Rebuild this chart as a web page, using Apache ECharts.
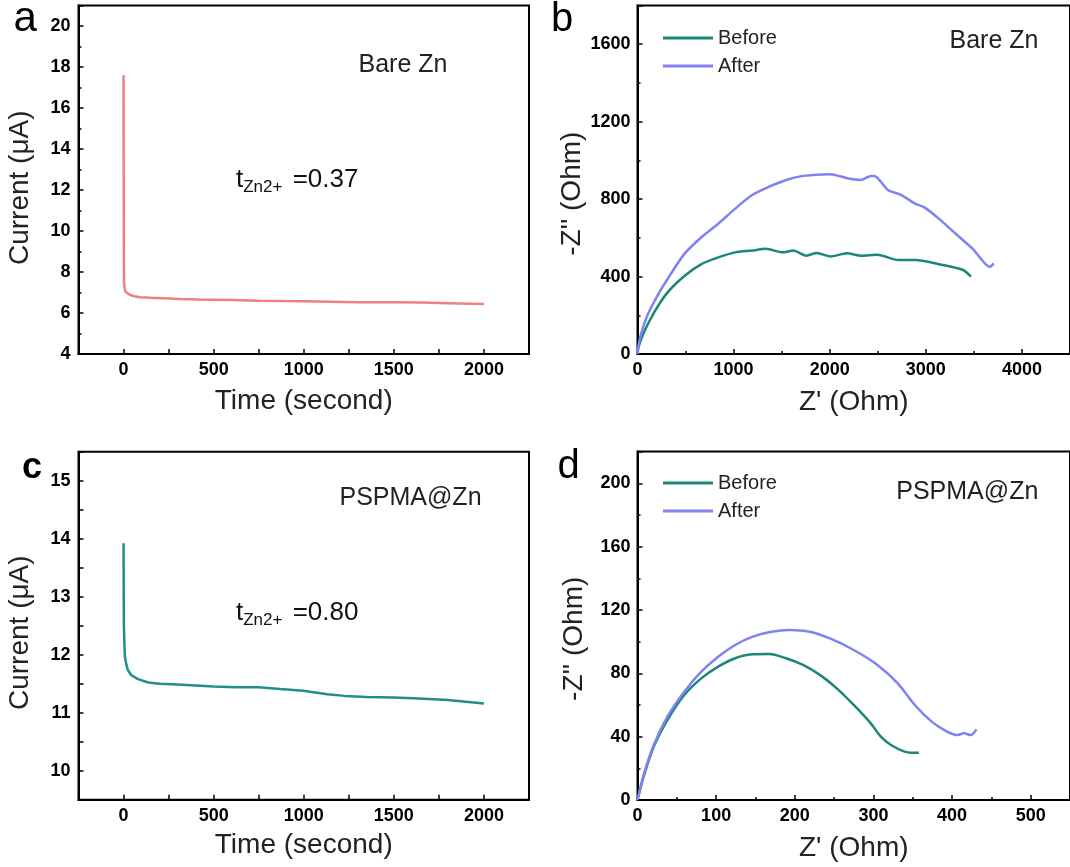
<!DOCTYPE html>
<html>
<head>
<meta charset="utf-8">
<script src="https://cdn.jsdelivr.net/npm/echarts@6/dist/echarts.min.js"></script>
<style>html,body{margin:0;padding:0;background:#fff}#c{width:1070px;height:867px}</style>
</head>
<body>
<div id="c"></div>
<script>
const FONT = 'Liberation Sans, Arial, Helvetica, sans-serif';

// Panel a: Bare Zn chronoamperometry
const aTime = [0,0.5,1,1.5,2,3,6,10,20,37,60,93,150,220,315,420,500,600,750,900,1000,1150,1300,1500,1650,1800,2000];
const aCurrent = [17.6,15.0,11.7,9.5,8.2,7.45,7.2,7.04,6.95,6.88,6.82,6.77,6.74,6.72,6.68,6.66,6.65,6.64,6.60,6.58,6.57,6.55,6.53,6.52,6.51,6.48,6.44];

// Panel c: PSPMA@Zn chronoamperometry
const cTime = [0,0.5,1,2,4,7.5,14,23,42,80,137,200,271,400,500,620,749,870,997,1131,1226,1350,1494,1609,1800,2000];
const cCurrent = [13.92,13.5,13.0,12.5,12.25,11.97,11.85,11.74,11.65,11.58,11.52,11.50,11.49,11.47,11.45,11.44,11.44,11.41,11.38,11.32,11.29,11.27,11.26,11.25,11.22,11.16];

// Panel b: Bare Zn Nyquist
const bBeforeRe = [0,10,64,170,311,488,665,840,1017,1193,1335,1511,1618,1758,1865,2005,2182,2323,2499,2711,2888,3135,3382,3470];
const bBeforeIm = [0,35,108,212,317,403,464,499,525,534,543,525,534,508,522,504,520,508,513,485,485,464,435,400];
const bAfterRe = [0,10,29,99,205,311,488,665,840,1017,1193,1370,1547,1723,2005,2182,2323,2430,2464,2606,2746,2888,2993,3135,3311,3488,3665,3707];
const bAfterIm = [0,40,90,195,299,386,517,603,673,751,821,864,899,920,929,908,899,920,920,847,821,777,755,699,621,543,450,468];

// Panel d: PSPMA@Zn Nyquist
const dBeforeRe = [0,7.8,20.7,38,59.5,81.1,102.6,124.2,145.7,167.3,188.9,210.4,231.9,253.4,275,296.6,309.5,322.4,339.7,348.3,357.8];
const dBeforeIm = [0,14.7,33.7,50.5,66.3,76.8,84.2,89.5,92,92.2,89.5,85.3,79,70.5,60,48.4,40,34.7,30.5,29.9,29.9];
const dAfterRe = [0,7.8,20.7,38,59.5,81.1,102.6,124.2,145.7,167.3,193.2,219,244.8,275,305.1,331,352.6,374.1,391.4,406.5,415,423.7,431];
const dAfterIm = [0,15.8,34.7,52.6,68.4,81,90.5,97.9,103,105.9,107.4,106.3,102,94.7,85.3,73.7,60,49.5,43.8,41,42.1,41,44.6];

// Axis ranges [min, max, interval]
const aXRange = [-250, 2250, 250];
const aYRange = [4, 21, 2];
const cXRange = [-250, 2250, 250];
const cYRange = [9.5, 15.5, 0.5];
const bXRange = [0, 4500, 1000];
const bYRange = [0, 1800, 400];
const dXRange = [0, 550, 100];
const dYRange = [0, 220, 40];

const legendNames = ['Before', 'After'];
const COLORS = { a: '#f08080', c: '#228e8a', before: '#1b8778', after: '#7f82f0' };

const zip = (xs, ys) => xs.map((x, i) => [x, ys[i]]);

const plainFmt = v => String(Math.round(v * 1000) / 1000);
const timeFmt = v => (v >= 0 && v <= 2000 && Math.abs(v % 500) < 1e-6) ? String(v) : '';
const intFmt = v => (Math.abs(v - Math.round(v)) < 1e-6 && v >= 10 && v <= 15) ? String(Math.round(v)) : '';
const minor = { show: true, splitNumber: 2, length: 3, lineStyle: { color: '#000', width: 1.5 } };

function label(margin, extra) {
  return Object.assign({ color: '#000', fontSize: 18, fontWeight: 'bold', fontFamily: FONT, margin, formatter: plainFmt }, extra || {});
}

function axis(gridIndex, range, name, nameGap, extra) {
  const base = {
    type: 'value', gridIndex, min: range[0], max: range[1], interval: range[2],
    name, nameLocation: 'middle', nameGap,
    nameTextStyle: { color: '#222', fontSize: 28, fontFamily: FONT },
    axisLine: { show: true, onZero: false, lineStyle: { color: '#000', width: 2 } },
    axisTick: { show: true, inside: true, length: 5, lineStyle: { color: '#000', width: 1.5 } },
    minorTick: { show: false },
    splitLine: { show: false },
    minorSplitLine: { show: false },
    axisLabel: label(7)
  };
  return Object.assign(base, extra || {});
}

const option = {
  animation: false,
  backgroundColor: '#fff',
  grid: [
    { left: 78.5, top: 5.5, width: 450.5, height: 348.5, show: true, borderColor: '#000', borderWidth: 2 },
    { left: 637.5, top: 5.5, width: 439, height: 348.5, show: true, borderColor: '#000', borderWidth: 2 },
    { left: 78.5, top: 451.7, width: 450.5, height: 348, show: true, borderColor: '#000', borderWidth: 2 },
    { left: 637.5, top: 451.6, width: 439, height: 348.4, show: true, borderColor: '#000', borderWidth: 2 }
  ],
  xAxis: [
    axis(0, aXRange, 'Time (second)', 33, { axisLabel: label(7, { formatter: timeFmt }) }),
    axis(1, bXRange, "Z' (Ohm)", 34, { minorTick: minor, axisLabel: label(7, { showMaxLabel: false }) }),
    axis(2, cXRange, 'Time (second)', 32, { axisLabel: label(7, { formatter: timeFmt }) }),
    axis(3, dXRange, "Z' (Ohm)", 34, { minorTick: minor, axisLabel: label(7, { showMaxLabel: false }) })
  ],
  yAxis: [
    axis(0, aYRange, 'Current (μA)', 44, { minorTick: minor,
      nameTextStyle: { color: '#222', fontSize: 28, fontFamily: FONT, padding: [0, 16, 0, 0] },
      axisLabel: label(8, { showMaxLabel: false }) }),
    axis(1, bYRange, "-Z'' (Ohm)", 50, { minorTick: minor,
      nameTextStyle: { color: '#222', fontSize: 28, fontFamily: FONT, padding: [0, 28, 0, 0] },
      axisLabel: label(7, { showMaxLabel: false }) }),
    axis(2, cYRange, 'Current (μA)', 44, {
      nameTextStyle: { color: '#222', fontSize: 28, fontFamily: FONT, padding: [0, 14, 0, 0] },
      axisLabel: label(8, { formatter: intFmt }) }),
    axis(3, dYRange, "-Z'' (Ohm)", 49, { minorTick: minor,
      nameTextStyle: { color: '#222', fontSize: 28, fontFamily: FONT, padding: [0, 26, 0, 0] },
      axisLabel: label(7, { showMaxLabel: false }) })
  ],
  legend: [
    { data: legendNames, orient: 'vertical', left: 663, top: 27, padding: 0, itemGap: 6,
      itemWidth: 50, itemHeight: 3, icon: 'rect', selectedMode: false,
      textStyle: { color: '#222', fontSize: 20, fontFamily: FONT, lineHeight: 22 } },
    { data: legendNames, orient: 'vertical', left: 663, top: 472, padding: 0, itemGap: 6,
      itemWidth: 50, itemHeight: 3, icon: 'rect', selectedMode: false,
      textStyle: { color: '#222', fontSize: 20, fontFamily: FONT, lineHeight: 22 } }
  ],
  series: [
    { type: 'line', name: 'Bare Zn', xAxisIndex: 0, yAxisIndex: 0, data: zip(aTime, aCurrent),
      showSymbol: false, lineStyle: { color: COLORS.a, width: 2.5 }, itemStyle: { color: COLORS.a } },
    { type: 'line', name: 'Before', xAxisIndex: 1, yAxisIndex: 1, data: zip(bBeforeRe, bBeforeIm),
      showSymbol: false, smooth: 0.25, lineStyle: { color: COLORS.before, width: 2.5 }, itemStyle: { color: COLORS.before } },
    { type: 'line', name: 'After', xAxisIndex: 1, yAxisIndex: 1, data: zip(bAfterRe, bAfterIm),
      showSymbol: false, smooth: 0.25, lineStyle: { color: COLORS.after, width: 2.5 }, itemStyle: { color: COLORS.after } },
    { type: 'line', name: 'PSPMA@Zn', xAxisIndex: 2, yAxisIndex: 2, data: zip(cTime, cCurrent),
      showSymbol: false, lineStyle: { color: COLORS.c, width: 2.5 }, itemStyle: { color: COLORS.c } },
    { type: 'line', name: 'Before', xAxisIndex: 3, yAxisIndex: 3, data: zip(dBeforeRe, dBeforeIm),
      showSymbol: false, smooth: 0.3, lineStyle: { color: COLORS.before, width: 2.5 }, itemStyle: { color: COLORS.before } },
    { type: 'line', name: 'After', xAxisIndex: 3, yAxisIndex: 3, data: zip(dAfterRe, dAfterIm),
      showSymbol: false, smooth: 0.3, lineStyle: { color: COLORS.after, width: 2.5 }, itemStyle: { color: COLORS.after } }
  ],
  graphic: [
    { type: 'text', x: 13.5, y: 19.6, style: { text: 'a', fontSize: 42, fontFamily: FONT, fill: '#000', verticalAlign: 'middle' } },
    { type: 'text', x: 551, y: 20, style: { text: 'b', fontSize: 40, fontFamily: FONT, fill: '#000', verticalAlign: 'middle' } },
    { type: 'text', x: 22, y: 468.5, style: { text: 'c', fontSize: 36, fontWeight: 'bold', fontFamily: FONT, fill: '#000', verticalAlign: 'middle' } },
    { type: 'text', x: 557.5, y: 467, style: { text: 'd', fontSize: 40, fontFamily: FONT, fill: '#000', verticalAlign: 'middle' } },
    { type: 'text', x: 403, y: 64.7, style: { text: 'Bare Zn', fontSize: 25, fontFamily: FONT, fill: '#222', align: 'center', verticalAlign: 'middle' } },
    { type: 'text', x: 994, y: 41.5, style: { text: 'Bare Zn', fontSize: 25, fontFamily: FONT, fill: '#222', align: 'center', verticalAlign: 'middle' } },
    { type: 'text', x: 410.5, y: 498, style: { text: 'PSPMA@Zn', fontSize: 25, fontFamily: FONT, fill: '#222', align: 'center', verticalAlign: 'middle' } },
    { type: 'text', x: 967.3, y: 492.5, style: { text: 'PSPMA@Zn', fontSize: 25, fontFamily: FONT, fill: '#222', align: 'center', verticalAlign: 'middle' } },
    { type: 'text', x: 236, y: 163.7, style: { text: '{m|t}{s|Zn2+}{m| =0.37}', verticalAlign: 'top', fill: '#111',
      rich: { m: { fontSize: 26, fontFamily: FONT, lineHeight: 32, fill: '#111' },
              s: { fontSize: 17, fontFamily: FONT, lineHeight: 14, verticalAlign: 'bottom', padding: [0, 3, 0, 0], fill: '#111' } } } },
    { type: 'text', x: 236, y: 597, style: { text: '{m|t}{s|Zn2+}{m| =0.80}', verticalAlign: 'top', fill: '#111',
      rich: { m: { fontSize: 26, fontFamily: FONT, lineHeight: 32, fill: '#111' },
              s: { fontSize: 17, fontFamily: FONT, lineHeight: 14, verticalAlign: 'bottom', padding: [0, 3, 0, 0], fill: '#111' } } } }
  ]
};

const chart = echarts.init(document.getElementById('c'), null, { renderer: 'canvas' });
chart.setOption(option);
</script>
</body>
</html>
